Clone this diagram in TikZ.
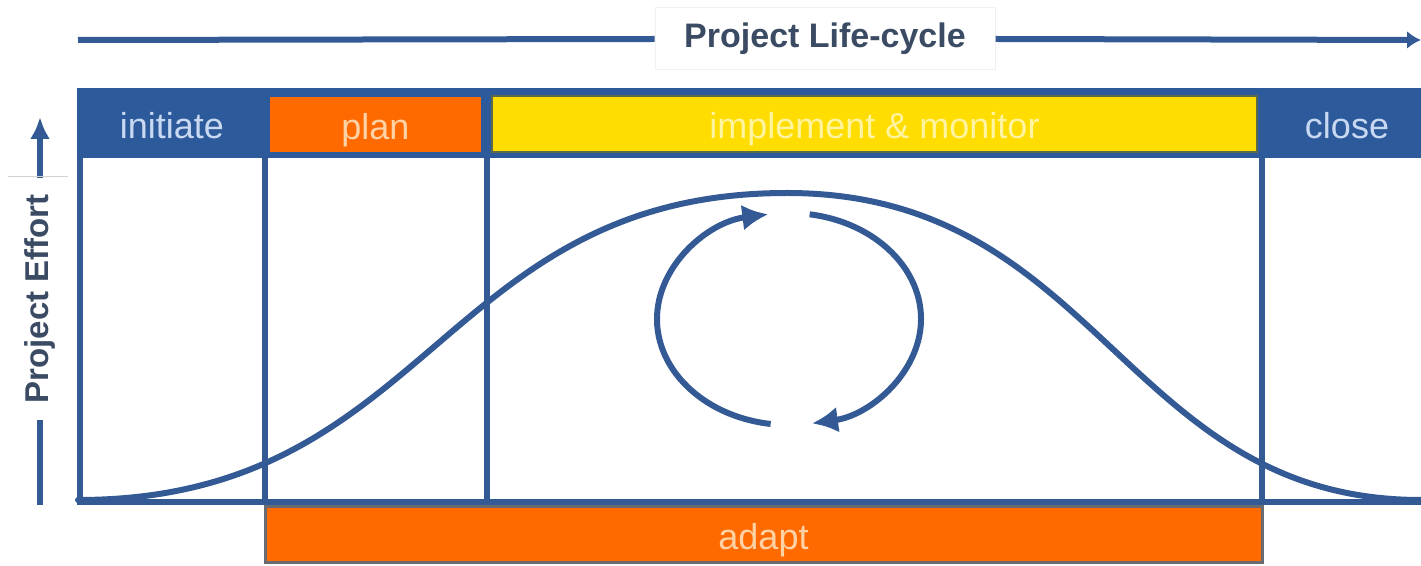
\documentclass[tikz,border=0pt]{standalone}
\usepackage{fontspec}
\setmainfont{Liberation Sans}
\usetikzlibrary{positioning,arrows.meta}

\definecolor{lineblue}{HTML}{345A95}
\definecolor{bandblue}{HTML}{2D5A9B}
\definecolor{planorange}{HTML}{FF6A00}
\definecolor{implyellow}{HTML}{FFDD00}
\definecolor{olive}{HTML}{5A6A4A}
\definecolor{bargray}{HTML}{6A6A72}
\definecolor{titletext}{HTML}{3B4B63}
\definecolor{bluetext}{HTML}{C9D9F2}
\definecolor{orangetext}{HTML}{FFD2A6}
\definecolor{yellowtext}{HTML}{FFF4A0}

\begin{document}
\begin{tikzpicture}[%
    x=1pt, y=1pt,
    phase/.style={%
        inner sep=0pt,
        text height=32pt,
        text depth=2pt,
        font=\fontsize{36}{40}\selectfont
    },
    frame/.style={%
        draw=lineblue,
        line width=6pt
    },
    effort/.style={%
        draw=lineblue,
        line width=6pt,
        line cap=round
    },
    axis/.style={%
        draw=lineblue,
        line width=6pt
    },
    >={Latex[length=26pt,width=26pt]}
]
\useasboundingbox (0,0) rectangle (1421,565);

% Header band
\fill[bandblue] (77,407) rectangle (1421,477);
\node[phase, text=bluetext] (initiate) at (172,441) {initiate};
\node[phase, fill=planorange, text=orangetext, minimum width=211pt, minimum height=55pt] (plan) at (375.5,440.5) {plan};
\node[phase, fill=implyellow, draw=olive, line width=1.5pt, text=yellowtext, minimum width=765pt, minimum height=56pt] (implement) at (874.5,441) {implement \& monitor};
\node[phase, text=bluetext] (close) at (1347,441) {close};

% Frame
\draw[frame] (80,407) -- (80,63);
\draw[frame] (265,407) -- (265,63);
\draw[frame] (487,407) -- (487,63);
\draw[frame] (1262,407) -- (1262,63);
\draw[frame] (77,63) -- (1421,63);

% Adapt bar
\node[phase, fill=planorange, draw=bargray, line width=3pt, text=orangetext, minimum width=997pt, minimum height=56pt] (adapt) at (763.5,31) {adapt};

% Effort curve
\draw[effort] (78,65) .. controls (430,65) and (440,372) .. (787,372)
    .. controls (1100,372) and (1124,65) .. (1421,65);

% Monitor loop
\coordinate (loop) at (789,246);
\draw[effort, line cap=butt, ->] ([shift={(262:132 and 106)}]loop)
    arc[start angle=262, end angle=99, x radius=132, y radius=106];
\draw[effort, line cap=butt, ->] ([shift={(81:132 and 106)}]loop)
    arc[start angle=81, end angle=-80, x radius=132, y radius=106];

% Project life-cycle axis
\coordinate (lcstart) at (78,525);
\coordinate (lcend) at (1421,525);
\node[fill=white, draw=gray!12, line width=1pt, minimum width=340pt, minimum height=62pt,
    text=titletext, font=\bfseries\fontsize{34}{40}\selectfont] (lifecycle) at (825,526) {Project Life-cycle};
\draw[axis] (lcstart) -- (lifecycle.west);
\draw[axis, -{Latex[length=14pt,width=18pt]}] (lifecycle.east) -- (lcend);

% Project effort axis
\coordinate (effbottom) at (40,60);
\coordinate (efftop) at (40,448);
\node[rotate=90, inner xsep=16pt, inner ysep=0pt, text=titletext,
    font=\bfseries\fontsize{33}{40}\selectfont] (effortlabel) at (40,266) {Project Effort};
\draw[axis] (effbottom) -- (effortlabel.west);
\draw[axis, -{Latex[length=22pt,width=20pt]}] (effortlabel.east) -- (efftop);
\draw[gray!35, line width=1pt] (8,388) -- (68,388);

\end{tikzpicture}
\end{document}
